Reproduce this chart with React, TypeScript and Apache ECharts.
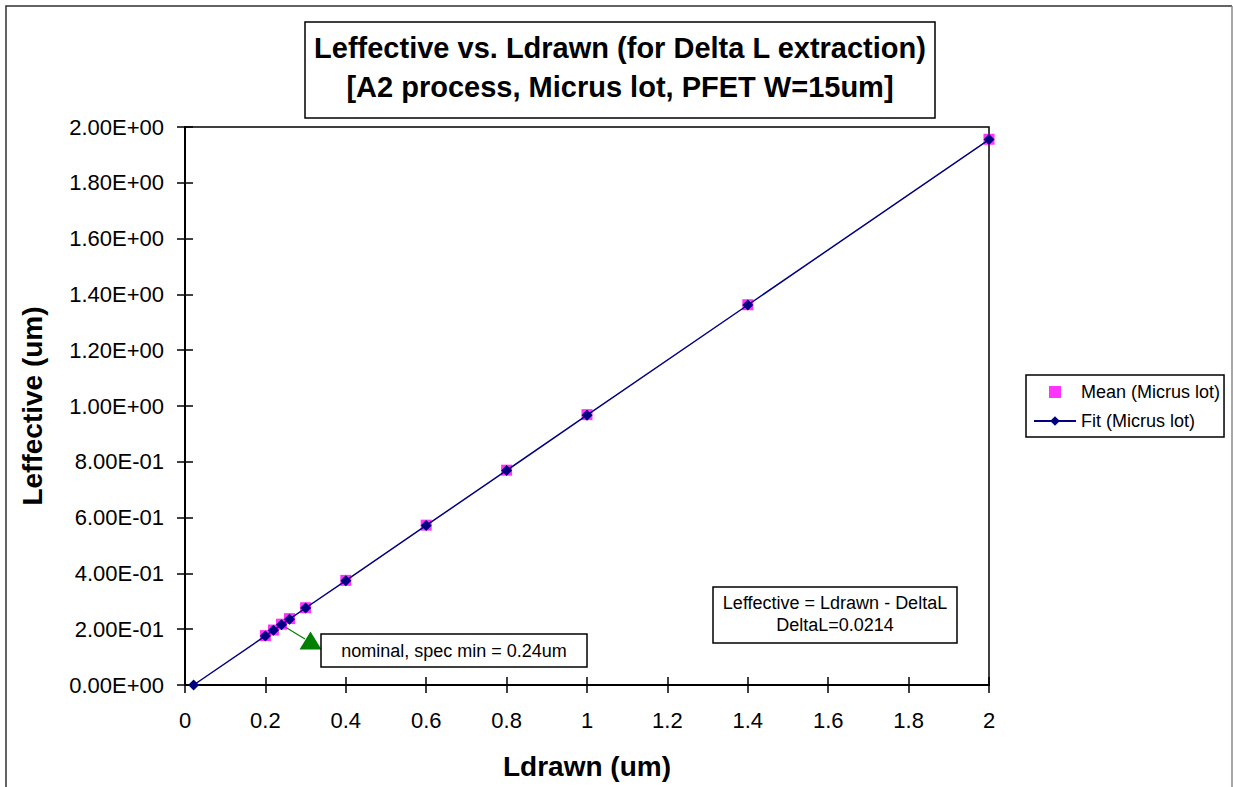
import React, { useEffect, useRef } from "react";
import * as echarts from "echarts";

// Ldrawn values (um) and measured / fitted effective lengths (um)
const meanLdrawn = [0.2, 0.22, 0.24, 0.26, 0.3, 0.4, 0.6, 0.8, 1.0, 1.4, 2.0];
const meanLeff = [0.177, 0.197, 0.218, 0.238, 0.277, 0.375, 0.573, 0.770, 0.969, 1.363, 1.956];

const fitLdrawn = [0.0214, 0.2, 0.22, 0.24, 0.26, 0.3, 0.4, 0.6, 0.8, 1.0, 1.4, 2.0];
const fitLeff = [0, 0.176, 0.196, 0.216, 0.236, 0.276, 0.374, 0.572, 0.769, 0.967, 1.362, 1.955];

const seriesNames = ["Mean (Micrus lot)", "Fit (Micrus lot)"];
const titleLines = [
  "Leffective vs. Ldrawn (for Delta L extraction)",
  "[A2 process, Micrus lot, PFET W=15um]",
];
const equationLines = ["Leffective = Ldrawn - DeltaL", "DeltaL=0.0214"];
const nominalNote = "nominal, spec min = 0.24um";
const nominalLdrawn = 0.24;

const FONT = "'Liberation Sans', Arial, Helvetica, sans-serif";

function sci(v: number): string {
  const [m, e] = v.toExponential(2).split("e");
  const n = parseInt(e, 10);
  return m + "E" + (n < 0 ? "-" : "+") + String(Math.abs(n)).padStart(2, "0");
}

const axisCommon = { min: 0, max: 2, interval: 0.2 };

export default function App() {
  const ref = useRef<HTMLDivElement>(null);

  useEffect(() => {
    if (!ref.current) return;
    const chart = echarts.init(ref.current, null, { renderer: "svg" });

    const option: any = {
      animation: false,
      backgroundColor: "#ffffff",
      textStyle: { fontFamily: FONT, color: "#000" },
      title: {
        text: titleLines.join("\n"),
        left: 620,
        top: 28,
        textAlign: "center",
        padding: 0,
        textStyle: {
          fontFamily: FONT,
          fontSize: 29,
          fontWeight: "bold",
          color: "#000",
          lineHeight: 39,
        },
      },
      legend: {
        orient: "vertical",
        left: 1026,
        top: 375,
        padding: [7, 4, 6, 7],
        itemGap: 9,
        itemWidth: 42,
        itemHeight: 12,
        symbolKeepAspect: true,
        borderColor: "#000",
        borderWidth: 1.5,
        data: [{ name: seriesNames[0], icon: "path://M0 0H10V10H0Z" }, { name: seriesNames[1] }],
        textStyle: { fontFamily: FONT, fontSize: 18, color: "#000", lineHeight: 20 },
      },
      grid: {
        left: 185,
        right: 244,
        top: 127,
        bottom: 102,
        show: true,
        borderColor: "#000",
        borderWidth: 1.5,
        backgroundColor: "transparent",
      },
      xAxis: [
        {
          type: "value",
          ...axisCommon,
          position: "bottom",
          name: "Ldrawn (um)",
          nameLocation: "middle",
          nameGap: 66,
          nameTextStyle: { fontFamily: FONT, fontSize: 28, fontWeight: "bold", color: "#000", lineHeight: 30 },
          axisLine: { show: true, lineStyle: { color: "#000", width: 2 } },
          axisTick: { show: true, inside: false, length: 8, lineStyle: { color: "#000", width: 1.5 } },
          axisLabel: { margin: 24, fontFamily: FONT, fontSize: 22, color: "#000" },
          splitLine: { show: false },
        },
        {
          type: "value",
          ...axisCommon,
          position: "bottom",
          axisLine: { show: false },
          axisTick: { show: true, inside: true, length: 8, lineStyle: { color: "#000", width: 1.5 } },
          axisLabel: { show: false },
          splitLine: { show: false },
        },
      ],
      yAxis: [
        {
          type: "value",
          ...axisCommon,
          position: "left",
          name: "Leffective (um)",
          nameLocation: "middle",
          nameRotate: 90,
          nameGap: 138,
          nameTextStyle: { fontFamily: FONT, fontSize: 28, fontWeight: "bold", color: "#000", lineHeight: 30 },
          axisLine: { show: true, lineStyle: { color: "#000", width: 2 } },
          axisTick: { show: true, inside: false, length: 8, lineStyle: { color: "#000", width: 1.5 } },
          axisLabel: { margin: 21, fontFamily: FONT, fontSize: 22, color: "#000", formatter: sci },
          splitLine: { show: false },
        },
        {
          type: "value",
          ...axisCommon,
          position: "left",
          axisLine: { show: false },
          axisTick: { show: true, inside: true, length: 8, lineStyle: { color: "#000", width: 1.5 } },
          axisLabel: { show: false },
          splitLine: { show: false },
        },
      ],
      series: [
        {
          name: seriesNames[0],
          type: "scatter",
          symbol: "rect",
          symbolSize: 11,
          itemStyle: { color: "#ff00ff" },
          data: meanLdrawn.map((x, i) => [x, meanLeff[i]]),
          z: 2,
        },
        {
          name: seriesNames[1],
          type: "line",
          symbol: "diamond",
          symbolSize: 11,
          showSymbol: true,
          lineStyle: { color: "#000080", width: 1.5 },
          itemStyle: { color: "#000080" },
          data: fitLdrawn.map((x, i) => [x, fitLeff[i]]),
          z: 3,
        },
      ],
    };

    chart.setOption(option);

    // Leader line starts at the nominal-length point of the fit
    const idx = fitLdrawn.indexOf(nominalLdrawn);
    const p = chart.convertToPixel({ gridIndex: 0 }, [nominalLdrawn, fitLeff[idx]]) as number[];

    chart.setOption({
      graphic: [
        {
          type: "polyline",
          shape: { points: [[6, 800], [6, 6], [1232, 6]] },
          style: { fill: "none", stroke: "#303030", lineWidth: 1.5 },
          silent: true,
        },
        {
          type: "line",
          shape: { x1: 1232, y1: 6, x2: 1232, y2: 800 },
          style: { stroke: "#8a8a8a", lineWidth: 1.5 },
          silent: true,
        },
        {
          type: "rect",
          shape: { x: 305, y: 22, width: 630, height: 96 },
          style: { fill: "none", stroke: "#000", lineWidth: 1.5 },
          silent: true,
        },
        {
          type: "rect",
          shape: { x: 713, y: 587, width: 244, height: 56 },
          style: { fill: "#fff", stroke: "#000", lineWidth: 1.5 },
          z: 5,
        },
        {
          type: "text",
          x: 835,
          y: 603,
          style: {
            text: equationLines[0],
            font: `18px ${FONT}`,
            fill: "#000",
            textAlign: "center",
            textVerticalAlign: "middle",
          },
          z: 6,
        },
        {
          type: "text",
          x: 835,
          y: 625,
          style: {
            text: equationLines[1],
            font: `18px ${FONT}`,
            fill: "#000",
            textAlign: "center",
            textVerticalAlign: "middle",
          },
          z: 6,
        },
        {
          type: "line",
          shape: { x1: p[0], y1: p[1], x2: 305, y2: 639 },
          style: { stroke: "#008000", lineWidth: 1.2 },
          z: 1,
        },
        {
          type: "polygon",
          shape: { points: [[310.5, 631.5], [299.5, 649.5], [321.5, 649.5]] },
          style: { fill: "#008000" },
          z: 5,
        },
        {
          type: "rect",
          shape: { x: 321, y: 634, width: 266, height: 33 },
          style: { fill: "#fff", stroke: "#000", lineWidth: 1.5 },
          z: 5,
        },
        {
          type: "text",
          x: 454,
          y: 651,
          style: {
            text: nominalNote,
            font: `18px ${FONT}`,
            fill: "#000",
            textAlign: "center",
            textVerticalAlign: "middle",
          },
          z: 6,
        },
      ],
    });

    return () => chart.dispose();
  }, []);

  return (
    <div
      ref={ref}
      style={{ position: "absolute", left: 0, top: 0, width: 1233, height: 787 }}
    />
  );
}
